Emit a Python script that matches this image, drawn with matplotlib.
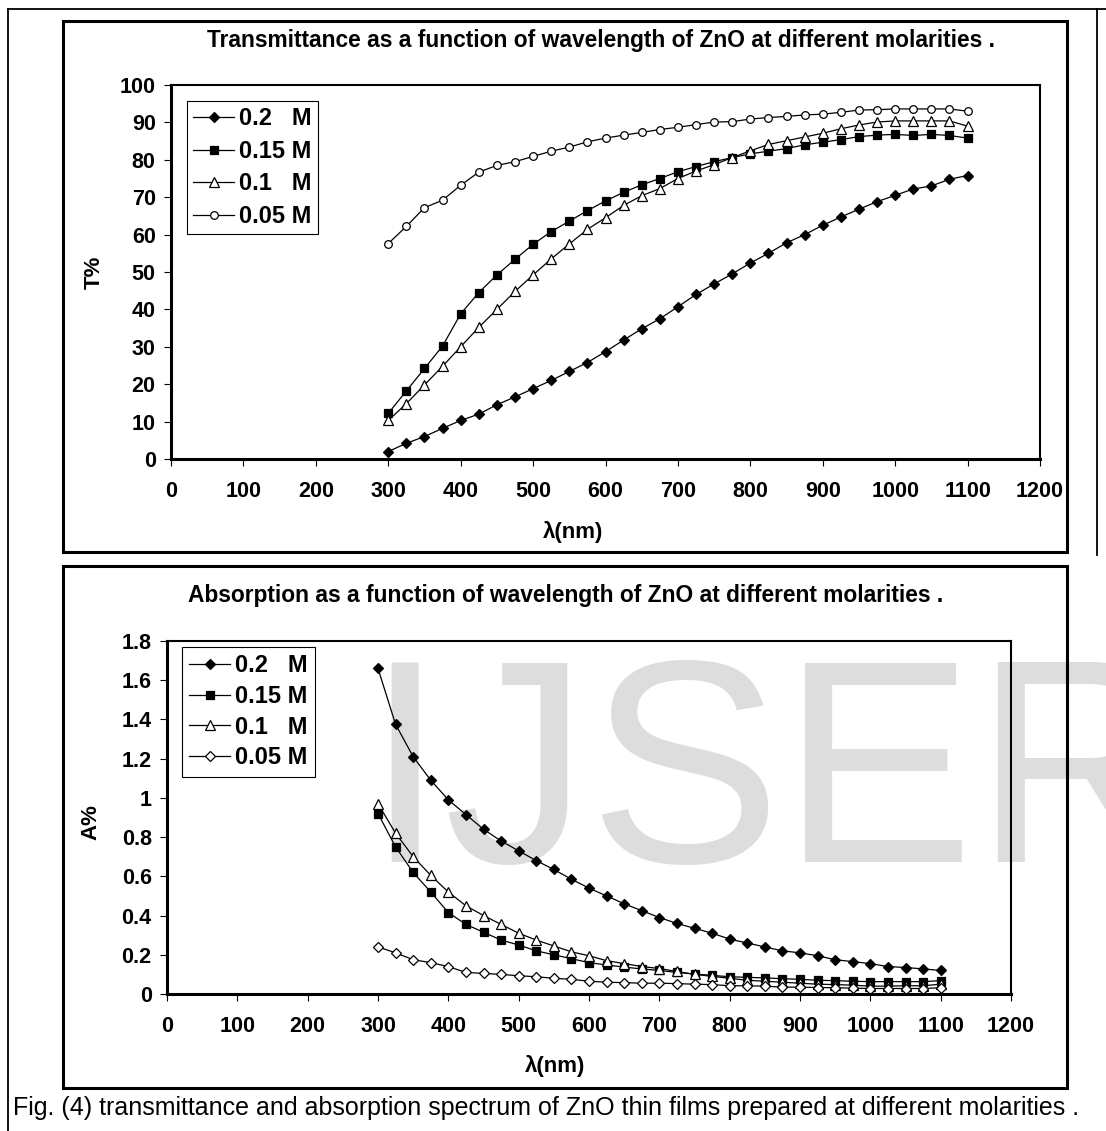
import numpy as np
import matplotlib.pyplot as plt
from matplotlib.patches import Rectangle
from matplotlib.lines import Line2D

# wavelength (nm)
wl = list(range(300, 1101, 25))

# transmittance T%
T_02 = [2.0, 4.2, 6.0, 8.2, 10.3, 12.0, 14.5, 16.6, 18.8, 21.0, 23.4, 25.8, 28.7,
        31.8, 34.8, 37.5, 40.7, 44.0, 46.8, 49.5, 52.4, 55.0, 57.8, 60.0, 62.5,
        64.7, 66.8, 68.8, 70.5, 72.2, 73.0, 74.8, 75.8]
T_015 = [12.2, 18.2, 24.2, 30.2, 38.8, 44.5, 49.2, 53.4, 57.4, 60.8, 63.6, 66.4, 69.0,
         71.3, 73.3, 75.0, 76.8, 78.2, 79.5, 80.6, 81.6, 82.3, 83.0, 84.0, 84.7,
         85.4, 86.2, 86.6, 86.8, 86.5, 86.8, 86.5, 85.8]
T_01 = [10.3, 14.8, 19.8, 24.8, 30.0, 35.2, 40.0, 44.8, 49.2, 53.5, 57.5, 61.4, 64.5,
        67.8, 70.4, 72.3, 75.0, 77.0, 78.7, 80.6, 82.4, 84.1, 85.1, 86.1, 87.1,
        88.3, 89.3, 90.1, 90.4, 90.4, 90.4, 90.4, 89.0]
T_005 = [57.6, 62.2, 67.2, 69.2, 73.2, 76.7, 78.5, 79.5, 80.9, 82.3, 83.4, 84.8, 85.8,
         86.6, 87.3, 88.1, 88.7, 89.4, 90.1, 90.2, 90.9, 91.3, 91.6, 92.0, 92.2,
         92.7, 93.3, 93.4, 93.6, 93.6, 93.6, 93.6, 93.0]

# absorption A%
A_02 = [1.66, 1.375, 1.21, 1.09, 0.99, 0.915, 0.84, 0.78, 0.73, 0.68, 0.635, 0.585, 0.54,
        0.50, 0.46, 0.425, 0.39, 0.36, 0.335, 0.31, 0.28, 0.26, 0.24, 0.22, 0.21,
        0.195, 0.175, 0.165, 0.155, 0.14, 0.135, 0.128, 0.12]
A_015 = [0.92, 0.75, 0.62, 0.52, 0.415, 0.355, 0.315, 0.275, 0.25, 0.22, 0.20, 0.18, 0.16,
         0.148, 0.137, 0.128, 0.12, 0.11, 0.102, 0.095, 0.088, 0.085, 0.082, 0.078, 0.075,
         0.07, 0.068, 0.065, 0.063, 0.063, 0.063, 0.063, 0.068]
A_01 = [0.97, 0.82, 0.70, 0.605, 0.52, 0.45, 0.40, 0.355, 0.31, 0.275, 0.245, 0.215, 0.195,
        0.17, 0.155, 0.14, 0.13, 0.115, 0.10, 0.09, 0.08, 0.07, 0.065, 0.06, 0.055,
        0.05, 0.048, 0.045, 0.04, 0.04, 0.042, 0.042, 0.05]
A_005 = [0.24, 0.21, 0.175, 0.16, 0.14, 0.11, 0.105, 0.10, 0.093, 0.088, 0.08, 0.075, 0.065,
         0.06, 0.058, 0.055, 0.055, 0.053, 0.05, 0.048, 0.042, 0.042, 0.04, 0.035, 0.035,
         0.033, 0.032, 0.03, 0.028, 0.028, 0.028, 0.028, 0.032]

labels = ['0.2   M', '0.15 M', '0.1   M', '0.05 M']

plt.rcParams['font.family'] = ['Liberation Sans', 'DejaVu Sans']
plt.rcParams['font.weight'] = 'bold'

W, H = 1106, 1131
fig = plt.figure(figsize=(W / 100, H / 100), dpi=100)


def fx(px):
    return px / W


def fy(py):
    return 1 - py / H


def panel_box(x0, y0, x1, y1):
    fig.add_artist(Rectangle((fx(x0), fy(y1)), fx(x1) - fx(x0), fy(y0) - fy(y1),
                             transform=fig.transFigure, fill=False, lw=2.2,
                             ec='black', zorder=0.5))


# outer frame
for xs, ys in [((8, 1106), (9, 9)), ((8, 8), (9, 1131)), ((1097, 1097), (9, 555))]:
    fig.add_artist(Line2D([fx(x) for x in xs], [fy(y) for y in ys],
                          transform=fig.transFigure, color='black', lw=1.3, zorder=0.5))

panel_box(63, 21, 1067, 552)
panel_box(63, 566, 1067, 1088)

# watermark
fig.text(fx(364), fy(862), 'IJSER', fontsize=208, color='#dddddd',
         fontweight='normal', ha='left', va='baseline', zorder=-1)


def style_axes(ax):
    ax.set_facecolor('none')
    for s in ['top', 'right']:
        ax.spines[s].set_linewidth(1.5)
    for s in ['left', 'bottom']:
        ax.spines[s].set_linewidth(2.2)
    ax.tick_params(direction='out', length=5, width=0.8, labelsize=15.5)
    ax.tick_params(axis='x', pad=11)
    ax.tick_params(axis='y', pad=6)
    ax.set_xlim(0, 1200)
    ax.set_xticks(range(0, 1201, 100))


def plot_series(ax, ys, markers):
    for y, lab, (m, fc, ms) in zip(ys, labels, markers):
        ax.plot(wl, y, color='black', lw=0.9, marker=m, markersize=ms,
                markerfacecolor=fc, markeredgecolor='black', markeredgewidth=0.9,
                label=lab, clip_on=False)


def add_legend(ax, x, y, spacing, pad):
    leg = ax.legend(loc='upper left', bbox_to_anchor=(fx(x), fy(y)),
                    bbox_transform=fig.transFigure, borderaxespad=0,
                    fancybox=False, framealpha=1, edgecolor='black',
                    prop={'size': 17, 'weight': 'bold'}, handlelength=1.75,
                    handletextpad=0.2, borderpad=pad, labelspacing=spacing)
    leg.get_frame().set_linewidth(0.8)


# transmittance
ax1 = fig.add_axes([fx(171), fy(459), fx(1040) - fx(171), fy(85) - fy(459)])
style_axes(ax1)
ax1.set_ylim(0, 100)
ax1.set_yticks(range(0, 101, 10))
plot_series(ax1, [T_02, T_015, T_01, T_005],
            [('D', 'black', 5.0), ('s', 'black', 6.0), ('^', 'white', 6.5), ('o', 'white', 5.5)])
add_legend(ax1, 187, 101, 0.41, 0.26)
ax1.text(0.495, 1.12, 'Transmittance as a function of wavelength of ZnO at different molarities .',
         transform=ax1.transAxes, ha='center', va='center', fontsize=16.4)
ax1.set_xlabel('λ(nm)', fontsize=16, fontweight='bold', va='center')
ax1.xaxis.set_label_coords(0.4626, -0.195)
ax1.set_ylabel('T%', fontsize=16, fontweight='bold', va='center')
ax1.yaxis.set_label_coords(-0.088, 0.5)

# absorption
ax2 = fig.add_axes([fx(167), fy(994), fx(1011) - fx(167), fy(641) - fy(994)])
style_axes(ax2)
ax2.set_ylim(0, 1.8)
ax2.set_yticks(np.arange(0, 1.81, 0.2))
ax2.set_yticklabels([f'{v:g}' for v in np.round(np.arange(0, 1.81, 0.2), 1)])
plot_series(ax2, [A_02, A_015, A_01, A_005],
            [('D', 'black', 5.0), ('s', 'black', 6.0), ('^', 'white', 6.5), ('D', 'white', 5.0)])
add_legend(ax2, 182, 647, 0.33, 0.3)
ax2.text(0.4727, 1.1275, 'Absorption as a function of wavelength of ZnO at different molarities .',
         transform=ax2.transAxes, ha='center', va='center', fontsize=16.4)
ax2.set_xlabel('λ(nm)', fontsize=16, fontweight='bold', va='center')
ax2.xaxis.set_label_coords(0.4597, -0.205)
ax2.set_ylabel('A%', fontsize=16, fontweight='bold', va='center')
ax2.yaxis.set_label_coords(-0.09, 0.487)

fig.text(fx(13), fy(1108),
         'Fig. (4) transmittance and absorption spectrum of ZnO thin films prepared at different molarities .',
         ha='left', va='center', fontsize=18, fontweight='normal')

fig.savefig('out.png', dpi=100)
